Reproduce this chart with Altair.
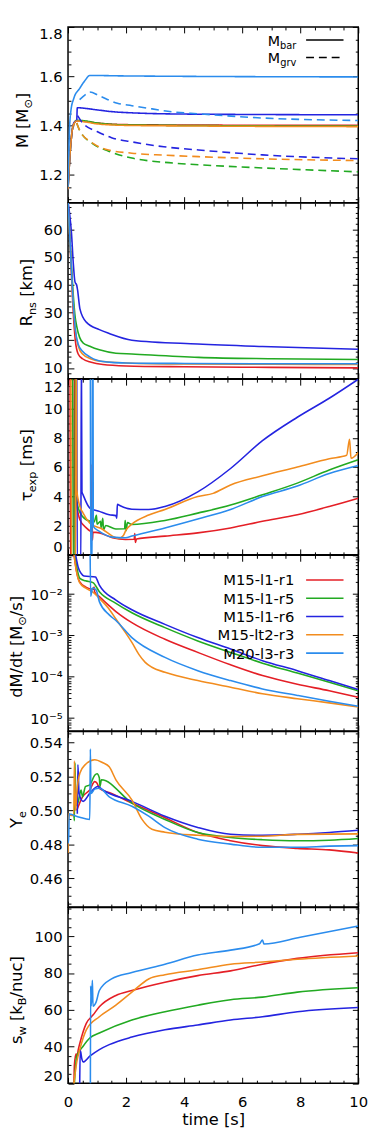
import altair as alt
import pandas as pd

FONT = "DejaVu Sans"
RUNS = ["M15-l1-r1", "M15-l1-r5", "M15-l1-r6", "M15-lt2-r3", "M20-l3-r3"]
COLORS = ["#e41f26", "#22aa22", "#2424e0", "#f28c1e", "#2b8ced"]

TIME_TICKS = [0, 2, 4, 6, 8, 10]
TIME_MINOR = [0.5, 1, 1.5, 2.5, 3, 3.5, 4.5, 5, 5.5, 6.5, 7, 7.5, 8.5, 9, 9.5]

# ---------------- panel 1 : M ----------------
MBAR_R1 = [[0.0, 1.14], [0.08, 1.30], [0.18, 1.40], [0.3, 1.418], [0.6, 1.416], [1.0, 1.41], [2.0, 1.403], [5.0, 1.401], [10.0, 1.40]]
MBAR_R5 = [[0.0, 1.14], [0.08, 1.30], [0.18, 1.40], [0.3, 1.421], [0.6, 1.418], [1.0, 1.41], [2.0, 1.402], [5.0, 1.399], [10.0, 1.397]]
MBAR_R6 = [[0.0, 1.14], [0.08, 1.30], [0.2, 1.41], [0.3, 1.422], [0.32, 1.472], [0.6, 1.469], [1.0, 1.463], [1.5, 1.456], [2.2, 1.451], [4.0, 1.446], [10.0, 1.443]]
MBAR_LT2 = [[0.0, 1.14], [0.08, 1.30], [0.18, 1.40], [0.3, 1.418], [0.6, 1.414], [1.0, 1.406], [2.0, 1.40], [5.0, 1.397], [10.0, 1.395]]
MBAR_M20 = [[0.0, 1.15], [0.05, 1.38], [0.1, 1.46], [0.2, 1.51], [0.4, 1.55], [0.6, 1.585], [0.75, 1.603], [2.0, 1.601], [10.0, 1.597]]
MGRV_R5 = [[0.3, 1.41], [0.4, 1.38], [0.86, 1.325], [1.4, 1.295], [2.2, 1.267], [3.3, 1.25], [4.5, 1.24], [6.7, 1.227], [10.0, 1.211]]
MGRV_R6 = [[0.33, 1.44], [0.5, 1.41], [1.0, 1.375], [1.5, 1.35], [2.2, 1.333], [3.3, 1.313], [4.5, 1.30], [6.7, 1.28], [10.0, 1.264]]
MGRV_LT2 = [[0.3, 1.41], [0.4, 1.38], [0.86, 1.327], [1.4, 1.30], [2.2, 1.287], [3.3, 1.279], [4.5, 1.273], [6.7, 1.264], [10.0, 1.257]]
MGRV_M20 = [[0.4, 1.505], [0.6, 1.525], [0.75, 1.536], [1.08, 1.52], [1.7, 1.49], [2.2, 1.48], [2.9, 1.467], [3.6, 1.455], [4.5, 1.447], [6.7, 1.43], [10.0, 1.42]]

# ---------------- panel 2 : R_ns ----------------
RNS_R1 = [[0.0, 70], [0.04, 62], [0.1, 48], [0.17, 32], [0.25, 20], [0.35, 15], [0.5, 13.3], [0.8, 12], [1.2, 11.2], [2.0, 10.7], [4.0, 10.4], [7.0, 10.2], [10.0, 10.0]]
RNS_R5 = [[0.0, 70], [0.04, 62], [0.1, 50], [0.17, 38], [0.25, 28], [0.3, 25], [0.4, 21], [0.52, 19], [0.75, 17.8], [1.08, 16.5], [1.65, 15.3], [2.2, 15.0], [4.5, 13.8], [7.0, 13.3], [10.0, 13.0]]
RNS_R6 = [[0.0, 70], [0.05, 66], [0.12, 58.5], [0.18, 48], [0.24, 41], [0.3, 39.8], [0.33, 38], [0.41, 31.3], [0.63, 26.5], [1.08, 23.8], [1.42, 22.4], [2.2, 20.0], [4.47, 18.6], [6.7, 17.7], [10.0, 16.7]]
RNS_LT2 = [[0.0, 70], [0.04, 62], [0.1, 49], [0.17, 35], [0.25, 24], [0.35, 18], [0.5, 15], [0.8, 13.2], [1.2, 12.3], [2.0, 11.8], [4.0, 11.4], [7.0, 11.3], [10.0, 11.2]]
RNS_M20 = [[0.0, 70], [0.04, 62], [0.1, 49], [0.17, 35], [0.25, 24], [0.35, 18.5], [0.5, 16], [0.75, 14], [1.0, 12.8], [1.5, 12.0], [2.0, 11.8], [4.0, 11.6], [7.0, 11.5], [10.0, 11.5]]

# ---------------- panel 3 : tau_exp ----------------
TAU_R1 = [[0.07, 14], [0.08, -1], [0.2, -1], [0.22, 14], [0.24, 14], [0.25, 4.6], [0.3, 3.5], [0.41, 2.4], [0.63, 1.84], [0.81, 1.6], [0.83, 6.2], [0.84, 1.0], [0.86, 1.55], [1.08, 1.5], [1.53, 1.17], [1.98, 1.05], [2.28, 1.06], [2.3, 1.45], [2.32, 0.85], [2.36, 1.08], [3.34, 1.28], [4.47, 1.5], [5.6, 1.84], [6.7, 2.29], [7.9, 2.74], [9.0, 3.3], [10.0, 3.87]]
TAU_R5 = [[0.16, 14], [0.18, -1], [0.24, -1], [0.26, 14], [0.27, 4.2], [0.33, 3.4], [0.41, 2.9], [0.63, 2.4], [0.9, 2.25], [0.98, 2.7], [1.0, 2.1], [1.12, 2.3], [1.14, 1.85], [1.2, 2.5], [1.22, 1.7], [1.3, 2.0], [1.65, 1.77], [1.95, 1.78], [1.97, 2.35], [2.0, 1.65], [2.05, 2.2], [2.2, 2.07], [3.34, 2.35], [4.47, 2.85], [5.6, 3.4], [6.7, 4.1], [7.9, 4.9], [9.0, 5.8], [10.0, 6.5]]
TAU_R6 = [[0.3, 14], [0.32, -1], [0.44, -1], [0.46, 14], [0.48, 4.3], [0.52, 4.1], [0.75, 3.2], [1.08, 2.97], [1.42, 2.74], [1.65, 2.68], [1.68, 2.5], [1.7, 3.45], [1.8, 3.35], [2.2, 3.12], [2.78, 3.1], [3.34, 3.3], [4.47, 4.3], [5.6, 5.9], [6.7, 7.8], [7.9, 9.4], [9.0, 10.7], [10.0, 12.0]]
TAU_LT2 = [[0.1, 14], [0.12, -1], [0.26, -1], [0.28, 14], [0.3, 4.5], [0.38, 3.5], [0.52, 2.85], [0.75, 2.17], [1.2, 1.73], [1.53, 1.28], [1.75, 1.12], [1.9, 1.3], [2.0, 1.7], [2.2, 2.1], [2.78, 2.72], [3.34, 3.1], [4.47, 3.98], [5.0, 4.2], [5.6, 4.77], [6.7, 5.4], [7.9, 6.0], [9.0, 6.57], [9.6, 6.8], [9.7, 7.9], [9.75, 6.6], [10.0, 7.0]]
TAU_M20 = [[0.77, 14], [0.78, -1], [0.83, -1], [0.84, 14], [0.86, 14], [0.87, 1.95], [1.08, 1.6], [1.53, 1.21], [1.98, 1.17], [2.2, 1.28], [3.34, 1.84], [4.47, 2.45], [5.6, 3.1], [6.7, 3.98], [7.9, 4.7], [9.0, 5.55], [10.0, 6.1]]

# ---------------- panel 4 : dM/dt ----------------
DMDT_R1 = [[0.2, 0.1], [0.28, 0.04], [0.4, 0.02], [0.6, 0.015], [0.86, 0.0132], [0.9, 0.0148], [0.92, 0.0112], [1.08, 0.0087], [1.65, 0.0038], [2.2, 0.00204], [3.34, 8.1e-4], [4.47, 3.9e-4], [5.6, 1.95e-4], [6.7, 1.07e-4], [7.9, 6.6e-5], [9.0, 4.6e-5], [10.0, 3.2e-5]]
DMDT_R5 = [[0.22, 0.1], [0.3, 0.045], [0.41, 0.024], [0.6, 0.021], [0.86, 0.019], [1.08, 0.0115], [1.65, 0.006], [2.2, 0.00355], [3.34, 0.00155], [4.47, 7.4e-4], [5.6, 3.9e-4], [6.7, 2.14e-4], [7.9, 1.23e-4], [9.0, 7.4e-5], [10.0, 4.6e-5]]
DMDT_R6 = [[0.25, 0.1], [0.35, 0.045], [0.45, 0.032], [0.55, 0.0275], [0.95, 0.026], [1.0, 0.0224], [1.08, 0.0166], [1.65, 0.0072], [2.2, 0.0042], [3.34, 0.00186], [4.47, 8.9e-4], [5.6, 4.7e-4], [6.7, 2.45e-4], [7.9, 1.41e-4], [9.0, 8.1e-5], [10.0, 4.9e-5]]
DMDT_LT2 = [[0.2, 0.1], [0.28, 0.04], [0.4, 0.019], [0.6, 0.0141], [0.86, 0.0112], [1.08, 0.0079], [1.4, 0.0045], [1.65, 0.0025], [1.98, 0.00117], [2.2, 6.8e-4], [2.44, 3.5e-4], [2.66, 2.24e-4], [2.89, 1.7e-4], [3.34, 1.29e-4], [4.47, 8.1e-5], [5.6, 5.6e-5], [6.7, 3.9e-5], [7.9, 2.95e-5], [9.0, 2.34e-5], [10.0, 1.86e-5]]
DMDT_M20 = [[0.76, 0.16], [0.78, 0.0089], [0.85, 0.0141], [0.97, 0.0126], [1.08, 0.0066], [1.42, 0.00316], [1.65, 0.0023], [2.2, 8.9e-4], [3.34, 2.95e-4], [4.47, 1.41e-4], [5.6, 8.1e-5], [6.7, 5.1e-5], [7.9, 3.55e-5], [9.0, 2.57e-5], [10.0, 1.95e-5]]

# ---------------- panel 5 : Y_e ----------------
YE_R1 = [[0.3, 0.50], [0.5, 0.508], [0.75, 0.512], [0.92, 0.5169], [1.0, 0.516], [1.08, 0.513], [1.5, 0.51], [2.2, 0.5043], [3.34, 0.4957], [4.47, 0.487], [5.6, 0.4822], [6.7, 0.4793], [7.9, 0.4777], [9.0, 0.4768], [10.0, 0.475]]
YE_R5 = [[0.2, 0.498], [0.22, 0.494], [0.24, 0.528], [0.27, 0.503], [0.35, 0.505], [0.45, 0.512], [0.5, 0.508], [0.6, 0.514], [0.75, 0.515], [0.92, 0.5207], [1.0, 0.5215], [1.08, 0.519], [1.1, 0.514], [1.15, 0.518], [2.2, 0.5043], [3.34, 0.4947], [4.47, 0.487], [5.6, 0.4841], [6.7, 0.4828], [7.9, 0.4822], [9.0, 0.4825], [10.0, 0.4835]]
YE_R6 = [[0.32, 0.498], [0.34, 0.527], [0.38, 0.51], [0.52, 0.5053], [0.75, 0.51], [1.03, 0.514], [1.2, 0.512], [2.2, 0.5053], [3.34, 0.4966], [4.47, 0.49], [5.6, 0.486], [6.7, 0.4854], [7.9, 0.486], [9.0, 0.487], [10.0, 0.4883]]
YE_LT2 = [[0.0, 0.475], [0.02, 0.498], [0.1, 0.497], [0.2, 0.497], [0.22, 0.529], [0.26, 0.50], [0.3, 0.51], [0.41, 0.522], [0.6, 0.527], [0.92, 0.5298], [1.2, 0.528], [1.42, 0.5256], [1.65, 0.518], [2.2, 0.5062], [2.55, 0.4947], [2.89, 0.4889], [3.34, 0.4872], [4.47, 0.4854], [5.6, 0.4847], [6.7, 0.4848], [7.9, 0.4859], [10.0, 0.4862]]
YE_M20 = [[0.0, 0.481], [0.02, 0.481], [0.04, 0.498], [0.1, 0.4977], [0.4, 0.496], [0.75, 0.4947], [0.77, 0.536], [0.79, 0.51], [0.92, 0.5125], [1.08, 0.513], [1.42, 0.508], [2.2, 0.5024], [2.78, 0.4966], [3.34, 0.4899], [4.47, 0.4831], [5.6, 0.4802], [6.7, 0.4783], [7.9, 0.4783], [9.0, 0.479], [10.0, 0.4793]]

# ---------------- panel 6 : s_w ----------------
SW_R1 = [[0.2, 15], [0.22, 30], [0.28, 36], [0.3, 33], [0.35, 38], [0.41, 41.9], [0.63, 52.6], [0.86, 57.1], [1.08, 61.6], [1.65, 67.8], [2.2, 70.5], [3.34, 75], [4.47, 78.6], [5.6, 81.2], [6.7, 84.8], [7.9, 88], [10.0, 91.1]]
SW_R5 = [[0.2, 15], [0.3, 34.5], [0.52, 40.1], [0.75, 44.6], [1.08, 47.3], [2.2, 54.4], [3.34, 58.9], [4.47, 62.5], [5.6, 65.5], [6.7, 66.9], [7.9, 69.6], [10.0, 72]]
SW_R6 = [[0.4, 15], [0.42, 38], [0.48, 33], [0.52, 31.5], [0.75, 34.7], [1.08, 38.3], [1.42, 41], [2.2, 45.1], [3.34, 49.1], [4.47, 51.7], [5.6, 54.4], [6.7, 56.2], [7.9, 58.9], [10.0, 61.2]]
SW_LT2 = [[0.17, 15], [0.3, 31.5], [0.41, 38.6], [0.63, 49], [1.08, 56.2], [1.65, 62.5], [2.2, 69.6], [2.78, 76.8], [3.34, 79.1], [4.47, 81.8], [5.6, 84.8], [6.7, 86], [7.9, 87.5], [10.0, 89.3]]
SW_M20 = [[0.77, 15], [0.78, 73], [0.8, 62], [0.84, 76], [0.86, 62], [0.97, 64.3], [1.08, 70.5], [1.5, 76.8], [2.2, 80.3], [3.34, 84.8], [4.47, 89.8], [5.6, 92.5], [6.6, 96], [6.7, 98], [6.75, 95.8], [8.0, 99.5], [10.0, 105.7]]

# axis ticks
M_TICKS = [1.2, 1.4, 1.6, 1.8]
M_MINOR = [1.1, 1.15, 1.25, 1.3, 1.35, 1.45, 1.5, 1.55, 1.65, 1.7, 1.75]
R_TICKS = [10, 20, 30, 40, 50, 60]
R_MINOR = [8, 12, 14, 16, 18, 22, 24, 26, 28, 32, 34, 36, 38, 42, 44, 46, 48, 52, 54, 56, 58, 62, 64, 66, 68]
TAU_TICKS = [0, 2, 4, 6, 8, 10, 12]
TAU_MINOR = [0.5, 1, 1.5, 2.5, 3, 3.5, 4.5, 5, 5.5, 6.5, 7, 7.5, 8.5, 9, 9.5, 10.5, 11, 11.5]
DM_TICKS = [1e-5, 1e-4, 1e-3, 1e-2]
DM_MINOR = [6e-6, 7e-6, 8e-6, 9e-6, 2e-5, 3e-5, 4e-5, 5e-5, 6e-5, 7e-5, 8e-5, 9e-5,
            2e-4, 3e-4, 4e-4, 5e-4, 6e-4, 7e-4, 8e-4, 9e-4, 2e-3, 3e-3, 4e-3, 5e-3, 6e-3, 7e-3, 8e-3, 9e-3,
            2e-2, 3e-2, 4e-2, 5e-2, 6e-2, 7e-2, 8e-2]
YE_TICKS = [0.46, 0.48, 0.50, 0.52, 0.54]
YE_MINOR = [0.445, 0.45, 0.455, 0.465, 0.47, 0.475, 0.485, 0.49, 0.495, 0.505, 0.51, 0.515, 0.525, 0.53, 0.535, 0.545]
SW_TICKS = [20, 40, 60, 80, 100]
SW_MINOR = [25, 30, 35, 45, 50, 55, 65, 70, 75, 85, 90, 95, 105, 110, 115]

W, H = 295, 178.5
LW = 1.6

DJV = {' ': 0.318, '[': 0.390, ']': 0.390, '/': 0.337, '-': 0.361, 'M': 0.863, 'R': 0.695,
       'Y': 0.611, 'B': 0.686, 'a': 0.613, 'b': 0.635, 'c': 0.550, 'd': 0.635, 'e': 0.615,
       'g': 0.635, 'k': 0.579, 'm': 0.974, 'n': 0.634, 'p': 0.635, 'r': 0.411, 's': 0.521,
       't': 0.392, 'u': 0.634, 'v': 0.592, 'w': 0.818, 'x': 0.592, 'τ': 0.563, '⊙': 0.838}


def tw(s, size):
    return sum(DJV.get(c, 0.6) for c in s) * size


ONE = pd.DataFrame({"a": [0]})
xs = alt.Scale(domain=[0, 10], nice=False, zero=False)
color = alt.Color("run:N", scale=alt.Scale(domain=RUNS, range=COLORS), legend=None)


def make_df(series):
    rows = []
    for run, kind, pts in series:
        for i, (t, v) in enumerate(pts):
            rows.append({"t": t, "v": v, "run": run, "kind": kind, "i": i})
    return pd.DataFrame(rows)


def tick_axis(orient, offset, vals, size):
    return alt.Axis(orient=orient, offset=offset, values=vals, labels=False, domain=False,
                    grid=False, ticks=True, tickSize=size, tickColor="black", tickWidth=1,
                    title=None, minExtent=0)


def title_layers(pieces, bx, cy, big=16.5, small=11.5, shift=4):
    total = sum(tw(t, small if sub else big) for t, sub in pieces)
    pos = -total / 2
    out = []
    for t, sub in pieces:
        fs = small if sub else big
        lead = len(t) - len(t.lstrip(" "))
        start = pos + tw(" " * lead, fs)
        out.append(alt.Chart(ONE).mark_text(
            text=t.strip(" "), angle=270, align="left", baseline="alphabetic", font=FONT, fontSize=fs,
            dx=start, dy=shift if sub else 0, color="black").encode(x=alt.value(bx), y=alt.value(cy)))
        pos += tw(t, fs)
    return out


def panel(series, ydom, ymaj, ymin, title, tx, ty, ylog=False, last=False, dash=False,
          extra=(), label_expr=None):
    df = make_df(series)
    if ylog:
        ys = alt.Scale(type="log", domain=ydom, nice=False)
    else:
        ys = alt.Scale(domain=ydom, nice=False, zero=False)
    yaxis_kw = dict(orient="left", values=ymaj, ticks=False, tickSize=0, domain=False, grid=False,
                    labelPadding=6, labelFontSize=15, labelFont=FONT, labelColor="black",
                    labelFlush=True, title=None)
    if label_expr:
        yaxis_kw["labelExpr"] = label_expr
    if last:
        xaxis = alt.Axis(orient="bottom", values=TIME_TICKS, ticks=False, tickSize=0, domain=False,
                         grid=False, labelPadding=12, labelFontSize=15, labelFont=FONT,
                         labelColor="black", labelFlush=False, title="time [s]", titleFontSize=16.5,
                         titleFont=FONT, titleFontWeight="normal", titleColor="black",
                         titlePadding=2)
    else:
        xaxis = None
    enc = dict(x=alt.X("t:Q", scale=xs, axis=xaxis),
               y=alt.Y("v:Q", scale=ys, axis=alt.Axis(**yaxis_kw)),
               color=color, order="i:Q")
    if dash:
        enc["strokeDash"] = alt.StrokeDash("kind:N", scale=alt.Scale(domain=["bar", "grv"], range=[[1, 0], [8, 5]]), legend=None)
    lines = alt.Chart(df).mark_line(clip=True, strokeWidth=LW, interpolate="monotone").encode(**enc)

    anchor = pd.DataFrame({"t": [0, 10], "v": [ydom[0], ydom[1]]})

    def tl(xo, yo, xv, yv, size):
        return alt.Chart(anchor).mark_point(opacity=0).encode(
            x=alt.X("t:Q", scale=xs, axis=tick_axis(xo, -H, xv, size)),
            y=alt.Y("v:Q", scale=ys, axis=tick_axis(yo, -W, yv, size)))

    ticks = [tl("top", "right", TIME_TICKS, ymaj, 6), tl("bottom", "left", TIME_TICKS, ymaj, 6),
             tl("top", "right", TIME_MINOR, ymin, 3), tl("bottom", "left", TIME_MINOR, ymin, 3)]
    layers = [lines] + ticks + title_layers(title, tx, ty) + list(extra)
    return alt.layer(*layers).resolve_axis(x="independent", y="independent").properties(width=W, height=H)


# legend in panel 1 (M_bar / M_grv)
def sub_label(main, sub, right, base, big=14.5, small=10):
    wsub = tw(sub, small)
    wmain = tw(main, big)
    return [
        alt.Chart(ONE).mark_text(text=main, align="left", baseline="alphabetic", font=FONT,
                                 fontSize=big, color="black").encode(x=alt.value(right - wsub - wmain), y=alt.value(base)),
        alt.Chart(ONE).mark_text(text=sub, align="left", baseline="alphabetic", font=FONT,
                                 fontSize=small, dy=3, color="black").encode(x=alt.value(right - wsub), y=alt.value(base)),
    ]


leg1 = sub_label("M", "bar", 232, 19.3) + sub_label("M", "grv", 232, 36.7) + [
    alt.Chart(ONE).mark_rule(color="black", strokeWidth=LW).encode(x=alt.value(242), x2=alt.value(280), y=alt.value(13.3)),
    alt.Chart(ONE).mark_rule(color="black", strokeWidth=LW, strokeDash=[8, 5]).encode(x=alt.value(242), x2=alt.value(280), y=alt.value(31)),
]

leg_df = pd.DataFrame({"run": RUNS, "idx": list(range(len(RUNS)))})
leg_base = alt.Chart(leg_df).transform_calculate(ly="25 + datum.idx * 18.6", ty="30.5 + datum.idx * 18.6")
leg4 = [
    leg_base.mark_rule(strokeWidth=LW).encode(x=alt.value(242), x2=alt.value(280),
                                              y=alt.Y("ly:Q", scale=None, axis=None), color=color),
    leg_base.mark_text(align="right", baseline="alphabetic", font=FONT, fontSize=15, color="black").encode(
        x=alt.value(230), y=alt.Y("ty:Q", scale=None, axis=None), text="run:N"),
]

p1 = panel([(RUNS[0], "bar", MBAR_R1), (RUNS[1], "bar", MBAR_R5), (RUNS[2], "bar", MBAR_R6),
            (RUNS[3], "bar", MBAR_LT2), (RUNS[4], "bar", MBAR_M20),
            (RUNS[1], "grv", MGRV_R5), (RUNS[2], "grv", MGRV_R6), (RUNS[3], "grv", MGRV_LT2),
            (RUNS[4], "grv", MGRV_M20)],
           [1.086, 1.8], M_TICKS, M_MINOR, [("M [M", 0), ("⊙", 1), ("]", 0)], -41, 95,
           dash=True, extra=leg1)
p2 = panel([(RUNS[0], "bar", RNS_R1), (RUNS[1], "bar", RNS_R5), (RUNS[2], "bar", RNS_R6),
            (RUNS[3], "bar", RNS_LT2), (RUNS[4], "bar", RNS_M20)],
           [6.1, 69.4], R_TICKS, R_MINOR, [("R", 0), ("ns", 1), (" [km]", 0)], -37, 91)
p3 = panel([(RUNS[0], "bar", TAU_R1), (RUNS[1], "bar", TAU_R5), (RUNS[2], "bar", TAU_R6),
            (RUNS[3], "bar", TAU_LT2), (RUNS[4], "bar", TAU_M20)],
           [0, 12], TAU_TICKS, TAU_MINOR, [("τ", 0), ("exp", 1), (" [ms]", 0)], -37, 87.5)
p4 = panel([(RUNS[0], "bar", DMDT_R1), (RUNS[1], "bar", DMDT_R5), (RUNS[2], "bar", DMDT_R6),
            (RUNS[3], "bar", DMDT_LT2), (RUNS[4], "bar", DMDT_M20)],
           [4.9e-6, 0.087], DM_TICKS, DM_MINOR, [("dM/dt [M", 0), ("⊙", 1), ("/s]", 0)], -47, 93,
           ylog=True, extra=leg4,
           label_expr="'10' + (datum.value < 5e-5 ? '⁻⁵' : datum.value < 5e-4 ? '⁻⁴' : datum.value < 5e-3 ? '⁻³' : '⁻²')")
p5 = panel([(RUNS[0], "bar", YE_R1), (RUNS[1], "bar", YE_R5), (RUNS[2], "bar", YE_R6),
            (RUNS[3], "bar", YE_LT2), (RUNS[4], "bar", YE_M20)],
           [0.4432, 0.5464], YE_TICKS, YE_MINOR, [("Y", 0), ("e", 1)], -47, 89.5)
p6 = panel([(RUNS[0], "bar", SW_R1), (RUNS[1], "bar", SW_R5), (RUNS[2], "bar", SW_R6),
            (RUNS[3], "bar", SW_LT2), (RUNS[4], "bar", SW_M20)],
           [20, 115.7], SW_TICKS, SW_MINOR, [("s", 0), ("w", 1), (" [k", 0), ("B", 1), ("/nuc]", 0)], -47, 94,
           last=True)

chart = alt.vconcat(p1, p2, p3, p4, p5, p6, spacing=0, bounds="flush").properties(
    padding={"left": 0, "top": 6, "right": 5, "bottom": 5}
).configure_view(stroke="black", strokeWidth=1.5).configure_axis(
    labelFont=FONT, titleFont=FONT
)

chart.save("out.html", embed_options={"renderer": "svg", "actions": False})
